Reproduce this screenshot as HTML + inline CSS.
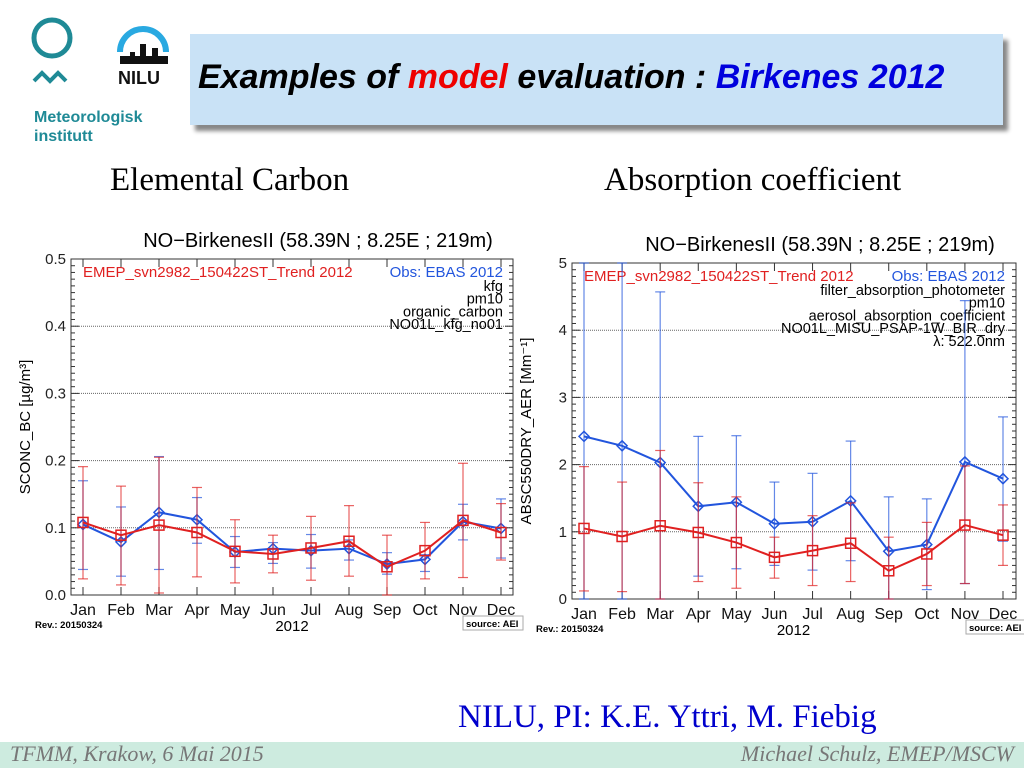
<!DOCTYPE html>
<html><head><meta charset="utf-8">
<style>
body{margin:0;width:1024px;height:768px;overflow:hidden;background:#fff;position:relative;font-family:"Liberation Sans",sans-serif}
.abs{position:absolute;white-space:nowrap}
</style></head>
<body>
<div class="abs" style="left:30px;top:16px;width:50px;height:100px">
 <svg width="50" height="80"><circle cx="22" cy="22" r="18" fill="none" stroke="#1f8a96" stroke-width="5"/><polyline points="4,65 12,57 20,65 28,57 36,65" fill="none" stroke="#1f8a96" stroke-width="4"/></svg>
</div>
<div class="abs" style="left:112px;top:20px;width:62px;height:70px">
 <svg width="62" height="70"><path d="M8 32 A23 23 0 0 1 54 32" fill="none" stroke="#29a9e1" stroke-width="6"/><rect x="8" y="36" width="48" height="8" fill="#111"/><rect x="28" y="24" width="6" height="14" fill="#111"/><rect x="40" y="28" width="6" height="10" fill="#111"/><rect x="18" y="32" width="5" height="6" fill="#111"/><text x="6" y="64" font-size="18" font-weight="bold" fill="#111">NILU</text></svg>
</div>
<div class="abs" style="left:34px;top:108px;font-size:16px;font-weight:bold;color:#1f8a96;line-height:19px">Meteorologisk<br>institutt</div>
<div class="abs" style="left:190px;top:34px;width:813px;height:91px;background:#c9e2f6;box-shadow:5px 6px 4px #888"></div>
<div class="abs" style="left:198px;top:58px;font-size:34px;font-style:italic;font-weight:bold;font-family:'Liberation Sans',sans-serif">Examples of <span style="color:#e00">model</span> evaluation : <span style="color:#0000dd">Birkenes 2012</span></div>
<div class="abs" style="left:110px;top:162px;font-size:33px;font-family:'Liberation Serif',serif">Elemental Carbon</div>
<div class="abs" style="left:604px;top:162px;font-size:33px;font-family:'Liberation Serif',serif">Absorption coefficient</div>
<div class="abs" style="left:458px;top:699px;font-size:33px;color:#0000cc;font-family:'Liberation Serif',serif">NILU, PI: K.E. Yttri, M. Fiebig</div>
<div class="abs" style="left:0;top:742px;width:1024px;height:26px;background:#cdebdf"></div>
<div class="abs" style="left:10px;top:741px;font-size:22px;font-style:italic;color:#777;font-family:'Liberation Serif',serif">TFMM, Krakow, 6 Mai 2015</div>
<div class="abs" style="right:10px;top:741px;font-size:22px;font-style:italic;color:#777;font-family:'Liberation Serif',serif">Michael Schulz, EMEP/MSCW</div>
<svg id="charts" class="abs" style="left:0;top:0" width="1024" height="768"></svg>
<script>
const months=["Jan","Feb","Mar","Apr","May","Jun","Jul","Aug","Sep","Oct","Nov","Dec"];
const ecObs=[0.105,0.079,0.123,0.112,0.064,0.069,0.066,0.069,0.046,0.053,0.109,0.099];
const ecObsHi=[0.170,0.131,0.206,0.145,0.087,0.078,0.090,0.082,0.063,0.060,0.135,0.143];
const ecObsLo=[0.038,0.028,0.038,0.077,0.041,0.047,0.040,0.052,0.031,0.035,0.082,0.055];
const ecMod=[0.108,0.089,0.104,0.093,0.065,0.061,0.070,0.080,0.042,0.066,0.111,0.093];
const ecModHi=[0.191,0.162,0.205,0.160,0.112,0.089,0.117,0.133,0.089,0.108,0.196,0.136];
const ecModLo=[0.024,0.015,0.003,0.027,0.018,0.033,0.022,0.028,0.0,0.024,0.026,0.052];
const abObs=[2.42,2.28,2.03,1.38,1.44,1.12,1.15,1.46,0.71,0.81,2.04,1.79];
const abObsHi=[5,5,4.57,2.42,2.43,1.74,1.87,2.35,1.52,1.49,4.44,2.71];
const abObsLo=[0,0,0,0.34,0.45,0.50,0.43,0.57,0,0.14,0.23,0.86];
const abMod=[1.05,0.93,1.09,0.99,0.84,0.62,0.72,0.83,0.42,0.67,1.10,0.95];
const abModHi=[1.97,1.74,2.21,1.73,1.52,0.92,1.24,1.43,0.92,1.14,1.98,1.40];
const abModLo=[0.12,0.11,0,0.26,0.16,0.31,0.20,0.26,0,0.20,0.23,0.50];
const ecTicks=["0.0","0.1","0.2","0.3","0.4","0.5"];
const abTicks=["0","1","2","3","4","5"];
const NS="http://www.w3.org/2000/svg";
const svg=document.getElementById('charts');
function mk(tag,at,parent){const e=document.createElementNS(NS,tag);for(const k in at)e.setAttribute(k,at[k]);(parent||svg).appendChild(e);return e;}
function txt(s,at,parent){const e=mk('text',at,parent);e.textContent=s;return e;}
function chart(c){
 const g=mk('g',{});
 
 
 const X=i=>c.x0+(c.x1-c.x0)*i/11;
 const Y=v=>c.yb-(c.yb-c.yt)*v/c.ymax;
 mk('rect',{x:c.L,y:c.yt,width:c.R-c.L,height:c.yb-c.yt,fill:'none',stroke:'#333','stroke-width':1},g);
 for(let k=1;k<c.ticks.length-1;k++){const v=c.ymax*k/(c.ticks.length-1);
  const gl=mk('line',{x1:c.L,x2:c.R,y1:Y(v),y2:Y(v),stroke:'#666','stroke-dasharray':'1,1','stroke-width':1},g);
  }
 c.ticks.forEach((t,k)=>{const v=c.ymax*k/(c.ticks.length-1);
  const e=txt(t,{x:c.L-5,y:Y(v)+5,'text-anchor':'end','font-size':15,fill:'#222'},g);
  });
 for(let k=0;k<=50;k++){const v=c.ymax*k/50;const len=k%10==0?8:4;
  mk('line',{x1:c.L,x2:c.L+len,y1:Y(v),y2:Y(v),stroke:'#333'},g);
  mk('line',{x1:c.R,x2:c.R-len,y1:Y(v),y2:Y(v),stroke:'#333'},g);}
 months.forEach((m,i)=>{mk('line',{x1:X(i),x2:X(i),y1:c.yb,y2:c.yb-8,stroke:'#333'},g);mk('line',{x1:X(i),x2:X(i),y1:c.yt,y2:c.yt+8,stroke:'#333'},g);
  const e=txt(m,{x:X(i),y:c.yb+20,'text-anchor':'middle','font-size':16,fill:'#111'},g);
  });
 txt('2012',{x:(c.x0+c.x1)/2,y:c.yb+36,'text-anchor':'middle','font-size':15},g);
 txt('Rev.: 20150324',{x:c.L-36,y:c.yb+33,'font-size':9.5,'font-weight':'bold'},g);
 mk('rect',{x:c.R-50,y:c.yb+21,width:60,height:14,fill:'#fff',stroke:'#aaa'},g);
 txt('source: AEI',{x:c.R-47,y:c.yb+32,'font-size':9.5,'font-weight':'bold'},g);
 const yt=txt(c.ylabel,{x:0,y:0,'font-size':15,'text-anchor':'middle',transform:`translate(${c.L-41},${(c.yt+c.yb)/2}) rotate(-90)`},g);
 
 const tt=txt(c.title,{x:(c.L+c.R)/2+26,y:c.yt-12,'text-anchor':'middle','font-size':20},g);
 
 const lr=txt('EMEP_svn2982_150422ST_Trend 2012',{x:c.x0,y:c.yt+18,'font-size':15,fill:'#e02020'},g);
 
 const lb=txt('Obs: EBAS 2012',{x:c.x1+2,y:c.yt+18,'font-size':15,fill:'#2255dd','text-anchor':'end'},g);
 
 c.info.forEach((s,k)=>txt(s,{x:c.x1+2,y:c.yt+32+k*12.7,'font-size':14.5,'text-anchor':'end'},g));
 function series(vals,hi,lo,col,shape,nm){
  vals.forEach((v,i)=>{const x=X(i);
   const eb=mk('g',{stroke:col,'stroke-opacity':0.7,'stroke-width':1.2},g);
   
   mk('line',{x1:x,x2:x,y1:Y(hi[i]),y2:Y(lo[i])},eb);
   mk('line',{x1:x-5,x2:x+5,y1:Y(hi[i]),y2:Y(hi[i])},eb);
   mk('line',{x1:x-5,x2:x+5,y1:Y(lo[i]),y2:Y(lo[i])},eb);});
  const ln=mk('polyline',{points:vals.map((v,i)=>X(i)+','+Y(v)).join(' '),fill:'none',stroke:col,'stroke-width':2},g);
  
  vals.forEach((v,i)=>{const x=X(i),y=Y(v);let p;
   if(shape=='sq')p=mk('rect',{x:x-5,y:y-5,width:10,height:10,fill:'none',stroke:col,'stroke-width':1.5},g);
   else p=mk('polygon',{points:`${x},${y-5} ${x+5},${y} ${x},${y+5} ${x-5},${y}`,fill:'none',stroke:col,'stroke-width':1.5},g);
   });
 }
 series(c.obs,c.obsHi,c.obsLo,'#2255dd','dia','obs');
 series(c.mod,c.modHi,c.modLo,'#e02020','sq','model');
}
chart({name:'elemental-carbon-chart',L:71,R:513,x0:83,x1:501,yt:259,yb:595,ymax:0.5,ticks:ecTicks,
 obs:ecObs,obsHi:ecObsHi,obsLo:ecObsLo,mod:ecMod,modHi:ecModHi,modLo:ecModLo,
 ylabel:'SCONC_BC [µg/m³]',title:'NO−BirkenesII (58.39N ; 8.25E ; 219m)',
 info:['kfg','pm10','organic_carbon','NO01L_kfg_no01']});
chart({name:'absorption-coefficient-chart',L:572,R:1016,x0:584,x1:1003,yt:263,yb:599,ymax:5,ticks:abTicks,
 obs:abObs,obsHi:abObsHi,obsLo:abObsLo,mod:abMod,modHi:abModHi,modLo:abModLo,
 ylabel:'ABSC550DRY_AER [Mm⁻¹]',title:'NO−BirkenesII (58.39N ; 8.25E ; 219m)',
 info:['filter_absorption_photometer','pm10','aerosol_absorption_coefficient','NO01L_MISU_PSAP-1W_BIR_dry','λ: 522.0nm']});
</script>
</body></html>
